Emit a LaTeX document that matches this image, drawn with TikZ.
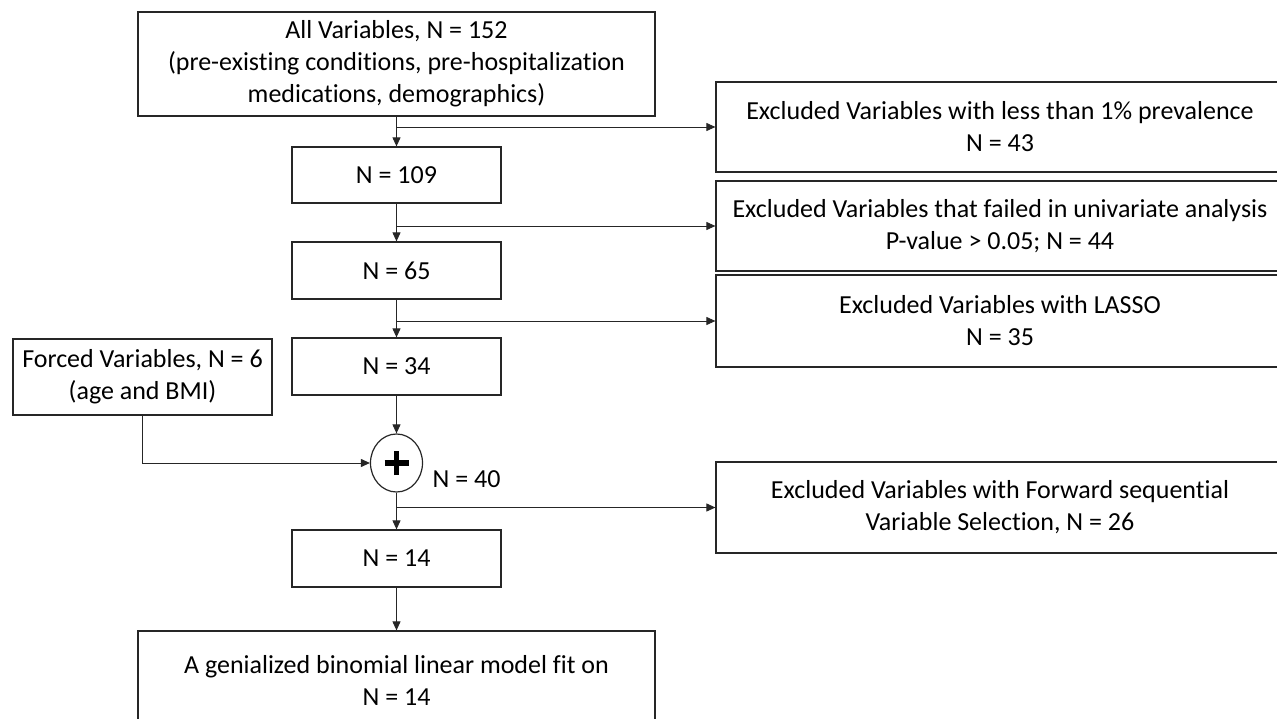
\documentclass[tikz,border=0pt]{standalone}
\usepackage{fontspec}
\setmainfont[Ligatures=NoCommon]{Carlito}
\usetikzlibrary{arrows.meta,shapes.geometric}
\begin{document}
\begin{tikzpicture}[x=1pt,y=-1pt,
  font=\fontsize{26}{32}\selectfont,
  box/.style={draw=black!85,line width=1.2pt,rectangle,align=center,inner sep=0pt},
  nbox/.style={box,minimum width=209pt,minimum height=57pt},
  exbox/.style={box,minimum width=568pt},
  conn/.style={draw=black!85,line width=0.9pt},
  arr/.style={conn,-{Triangle[length=9pt,width=8pt]}}]
\useasboundingbox (0,0) rectangle (1277,719);

\node[box,minimum width=517pt,minimum height=104pt] (top) at (396.5,64)
  {All Variables, N = 152\\(pre-existing conditions, pre-hospitalization\\medications, demographics)};
\node[nbox,minimum height=56pt] (n109) at (396.5,175) {N = 109};
\node[nbox] (n65) at (396.5,270.5) {N = 65};
\node[nbox] (n34) at (396.5,366.5) {N = 34};
\node[box,minimum width=259pt,minimum height=76pt] (forced) at (142.5,377)
  {Forced Variables, N = 6\\(age and BMI)};
\node[draw=black!85,line width=1.2pt,ellipse,minimum width=52pt,minimum height=58pt,inner sep=0pt] (plus) at (396.5,463) {};
\node[inner sep=0pt] (n40) at (466.5,479) {N = 40};
\node[nbox] (n14) at (396.5,558.5) {N = 14};
\node[box,minimum width=517pt,minimum height=98pt] (final) at (396.5,680)
  {A genialized binomial linear model fit on\\N = 14};

\node[exbox,minimum height=90pt] (ex1) at (1000,127)
  {Excluded Variables with less than 1\% prevalence\\N = 43};
\node[exbox,minimum height=90pt] (ex2) at (1000,226)
  {Excluded Variables that failed in univariate analysis\\P-value > 0.05; N = 44};
\node[exbox,minimum height=92pt] (ex3) at (1000,321)
  {Excluded Variables with LASSO\\N = 35};
\node[exbox,minimum height=91pt] (ex4) at (1000,507.5)
  {Excluded Variables with Forward sequential\\Variable Selection, N = 26};

% plus sign
\draw[line width=5.5pt] ([xshift=-12pt]plus.center) -- ([xshift=12pt]plus.center);
\draw[line width=5.5pt] ([yshift=-12pt]plus.center) -- ([yshift=12pt]plus.center);

% main flow
\draw[arr] (top.south) -- (n109.north);
\draw[arr] (n109.south) -- (n65.north);
\draw[arr] (n65.south) -- (n34.north);
\draw[arr] (n34.south) -- (plus.north);
\draw[arr] (plus.south) -- (n14.north);
\draw[arr] (n14.south) -- (final.north);
\draw[arr] (forced.south) |- (plus.west);

% exclusions
\draw[arr] (n109.north |- ex1.west) -- (ex1.west);
\draw[arr] (n65.north |- ex2.west) -- (ex2.west);
\draw[arr] (n34.north |- ex3.west) -- (ex3.west);
\draw[arr] (n14.north |- ex4.west) -- (ex4.west);
\end{tikzpicture}
\end{document}
